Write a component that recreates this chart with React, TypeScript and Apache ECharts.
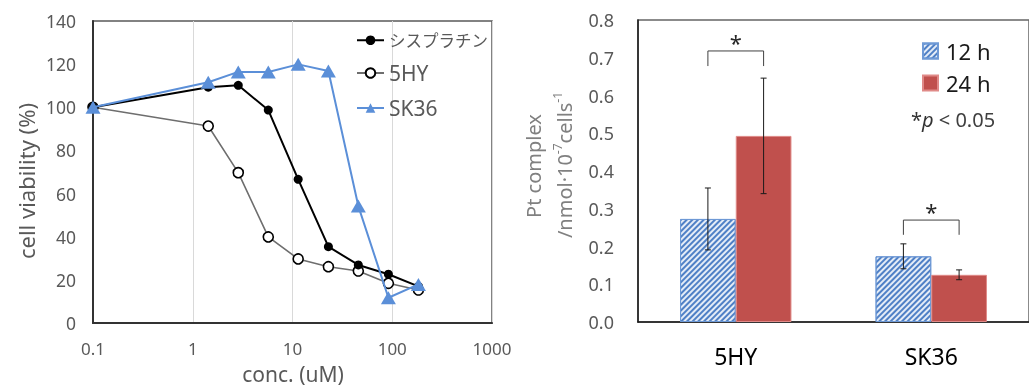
import React, { useEffect, useRef } from "react";
import * as echarts from "echarts";

// ---- Left chart data ----
const concs = [0.1, 1.43, 2.86, 5.72, 11.4, 22.9, 45.7, 91.5, 183];
const cisplatin = [100, 109.3, 110.2, 98.7, 66.6, 35.4, 26.9, 22.6, 17];
const hy5 = [100, 91.3, 69.7, 39.9, 29.7, 26.1, 24.1, 18.4, 15.3];
const sk36 = [100, 111.6, 116.4, 116.4, 119.9, 116.8, 54.2, 11.7, 17.9];
const lineNames = ["シスプラチン", "5HY", "SK36"];

// ---- Right chart data ----
const cellLines = ["5HY", "SK36"];
const mean12 = [0.273, 0.174];
const err12 = [0.082, 0.033];
const mean24 = [0.493, 0.125];
const err24 = [0.153, 0.013];
const sigTop = [0.718, 0.27];
const sigLeg = [0.678, 0.231];
const barNames = ["12 h", "24 h"];

const FONT = "'Noto Sans', 'Noto Sans CJK JP', sans-serif";
const JPFONT = "'Noto Sans CJK JP', sans-serif";
const BAR_FRAC = 0.285;

function pair(xs: number[], ys: number[]) {
  return xs.map((x, i) => [x, ys[i]]);
}

function errRender(sign: number) {
  return (params: any, api: any) => {
    const idx = api.value(0);
    const band = api.size([1, 0])[0];
    const off = ((band * BAR_FRAC) / 2) * sign;
    const lo = api.coord([idx, api.value(1)]);
    const hi = api.coord([idx, api.value(2)]);
    const x = lo[0] + off;
    const cap = 3;
    const st = { stroke: "#1a1a1a", lineWidth: 1 };
    return {
      type: "group",
      children: [
        { type: "line", shape: { x1: x, y1: lo[1], x2: x, y2: hi[1] }, style: st },
        { type: "line", shape: { x1: x - cap, y1: lo[1], x2: x + cap, y2: lo[1] }, style: st },
        { type: "line", shape: { x1: x - cap, y1: hi[1], x2: x + cap, y2: hi[1] }, style: st },
      ],
    };
  };
}

function bracketRender(params: any, api: any) {
  const idx = api.value(0);
  const band = api.size([1, 0])[0];
  const off = (band * BAR_FRAC) / 2;
  const top = api.coord([idx, api.value(1)]);
  const leg = api.coord([idx, api.value(2)]);
  const cx = top[0];
  return {
    type: "group",
    children: [
      {
        type: "polyline",
        shape: {
          points: [
            [cx - off, leg[1]],
            [cx - off, top[1]],
            [cx + off, top[1]],
            [cx + off, leg[1]],
          ],
        },
        style: { stroke: "#404040", lineWidth: 1, fill: "none" },
      },
      {
        type: "text",
        x: cx,
        y: top[1] - 9,
        style: {
          text: "*",
          fontSize: 22,
          fontFamily: FONT,
          fill: "#262626",
          textAlign: "center",
          textVerticalAlign: "middle",
        },
      },
    ],
  };
}

export default function App() {
  const ref = useRef<HTMLDivElement>(null);
  useEffect(() => {
    if (!ref.current) return;
    const chart = echarts.init(ref.current, undefined, { renderer: "svg" });
    const gray = "#595959";
    chart.setOption({
      animation: false,
      textStyle: { fontFamily: FONT },
      legend: [
        {
          data: lineNames,
          orient: "vertical",
          left: 356,
          top: 32,
          padding: 0,
          itemWidth: 27,
          itemHeight: 12,
          itemGap: 14,
          formatter: (name: string) =>
            name === lineNames[0] ? `{jp|${name}}` : `{en|${name}}`,
          textStyle: {
            color: gray,
            fontFamily: FONT,
            rich: {
              jp: { fontSize: 16.5, fontFamily: JPFONT, color: gray, lineHeight: 20 },
              en: { fontSize: 21, fontFamily: FONT, color: gray, lineHeight: 20 },
            },
          },
        },
        {
          data: barNames,
          orient: "vertical",
          left: 922,
          top: 40,
          padding: 0,
          itemWidth: 15,
          itemHeight: 15,
          itemGap: 10,
          icon: "rect",
          textStyle: {
            fontSize: 22,
            lineHeight: 22,
            color: "#1a1a1a",
            fontFamily: FONT,
            padding: [0, 0, 0, 3],
          },
        },
      ],
      grid: [
        {
          left: 93,
          top: 21,
          width: 399,
          height: 302,
          show: true,
          borderColor: "#595959",
          borderWidth: 1.5,
        },
        {
          left: 638,
          top: 20,
          right: -11,
          height: 302,
          show: true,
          borderColor: "#666",
          borderWidth: 1.5,
        },
      ],
      xAxis: [
        {
          type: "log",
          gridIndex: 0,
          min: 0.1,
          max: 1000,
          logBase: 10,
          axisLine: { lineStyle: { color: "#333", width: 2 } },
          axisTick: { show: false },
          splitLine: { show: true, lineStyle: { color: "#d9d9d9", width: 1 } },
          axisLabel: {
            fontSize: 17,
            color: gray,
            margin: 17,
            formatter: (v: number) => String(v),
          },
        },
        {
          type: "category",
          gridIndex: 1,
          data: cellLines,
          axisLine: { lineStyle: { color: "#1a1a1a", width: 1.5 } },
          axisTick: { show: false },
          axisLabel: { fontSize: 23, color: "#000", margin: 22 },
        },
      ],
      yAxis: [
        {
          type: "value",
          gridIndex: 0,
          min: 0,
          max: 140,
          interval: 20,
          axisLine: { show: true, lineStyle: { color: "#333", width: 2 } },
          axisTick: { show: false },
          splitLine: { show: false },
          axisLabel: { fontSize: 17.5, color: gray, margin: 17 },
        },
        {
          type: "value",
          gridIndex: 1,
          min: 0,
          max: 0.8,
          interval: 0.1,
          axisLine: { show: true, lineStyle: { color: "#1a1a1a", width: 1.5 } },
          axisTick: { show: false },
          splitLine: { show: false },
          axisLabel: {
            fontSize: 18,
            color: gray,
            margin: 24,
            formatter: (v: number) => v.toFixed(1),
          },
        },
      ],
      series: [
        {
          name: lineNames[0],
          type: "line",
          xAxisIndex: 0,
          yAxisIndex: 0,
          data: pair(concs, cisplatin),
          symbol: "circle",
          symbolSize: 9,
          lineStyle: { color: "#000", width: 2 },
          itemStyle: { color: "#000" },
          z: 3,
        },
        {
          name: lineNames[1],
          type: "line",
          xAxisIndex: 0,
          yAxisIndex: 0,
          data: pair(concs, hy5),
          symbol: "circle",
          symbolSize: 10,
          showAllSymbol: true,
          lineStyle: { color: "#6e6e6e", width: 1.6 },
          itemStyle: { color: "#fff", borderColor: "#000", borderWidth: 1.6 },
          z: 2,
        },
        {
          name: lineNames[2],
          type: "line",
          xAxisIndex: 0,
          yAxisIndex: 0,
          data: pair(concs, sk36),
          symbol: "triangle",
          symbolSize: [15, 13],
          lineStyle: { color: "#5b8fd8", width: 2 },
          itemStyle: { color: "#5b8fd8" },
          z: 4,
        },
        {
          name: barNames[0],
          type: "bar",
          xAxisIndex: 1,
          yAxisIndex: 1,
          data: mean12,
          barGap: "0%",
          barCategoryGap: "43%",
          itemStyle: {
            color: "#e4ecf7",
            borderColor: "#6f9ad6",
            borderWidth: 1,
            decal: {
              symbol: "rect",
              symbolSize: 1,
              color: "#4f80c6",
              dashArrayX: [1, 0],
              dashArrayY: [1.5, 1.5],
              rotation: -Math.PI / 4,
            },
          },
        },
        {
          name: barNames[1],
          type: "bar",
          xAxisIndex: 1,
          yAxisIndex: 1,
          data: mean24,
          barGap: "0%",
          barCategoryGap: "43%",
          itemStyle: { color: "#c0504d", borderColor: "#e08a88", borderWidth: 1 },
        },
        {
          type: "custom",
          xAxisIndex: 1,
          yAxisIndex: 1,
          renderItem: errRender(-1),
          data: mean12.map((m, i) => [i, m - err12[i], m + err12[i]]),
          z: 5,
          silent: true,
        },
        {
          type: "custom",
          xAxisIndex: 1,
          yAxisIndex: 1,
          renderItem: errRender(1),
          data: mean24.map((m, i) => [i, m - err24[i], m + err24[i]]),
          z: 5,
          silent: true,
        },
        {
          type: "custom",
          xAxisIndex: 1,
          yAxisIndex: 1,
          renderItem: bracketRender,
          data: sigTop.map((t, i) => [i, t, sigLeg[i]]),
          z: 5,
          silent: true,
        },
      ],
      graphic: [
        {
          type: "text",
          x: 293,
          y: 374,
          style: {
            text: "conc. (uM)",
            fontSize: 21,
            fontFamily: FONT,
            fill: gray,
            textAlign: "center",
            textVerticalAlign: "middle",
          },
        },
        {
          type: "text",
          x: 26,
          y: 181,
          rotation: Math.PI / 2,
          style: {
            text: "cell viability (%)",
            fontSize: 22,
            fontFamily: FONT,
            fill: gray,
            textAlign: "center",
            textVerticalAlign: "middle",
          },
        },
        {
          type: "text",
          x: 533,
          y: 166,
          rotation: Math.PI / 2,
          style: {
            text: "Pt complex",
            fontSize: 20,
            fontFamily: FONT,
            fill: "#808080",
            textAlign: "center",
            textVerticalAlign: "middle",
          },
        },
        {
          type: "text",
          x: 563,
          y: 165,
          rotation: Math.PI / 2,
          style: {
            text: "{m|/nmol·10}{s|-7}{m|cells}{s|-1}",
            textAlign: "center",
            textVerticalAlign: "middle",
            rich: {
              m: { fontSize: 20, fontFamily: FONT, fill: "#808080", lineHeight: 23, verticalAlign: "bottom" },
              s: { fontSize: 12, fontFamily: FONT, fill: "#808080", lineHeight: 23, verticalAlign: "top" },
            },
          },
        },
        {
          type: "text",
          x: 911,
          y: 119,
          style: {
            text: "{a|*}{p|p}{b| < 0.05}",
            textVerticalAlign: "middle",
            rich: {
              a: { fontSize: 20, fontFamily: FONT, fill: "#333" },
              p: { fontSize: 20, fontFamily: FONT, fontStyle: "italic", fill: "#333" },
              b: { fontSize: 20, fontFamily: FONT, fill: "#404040" },
            },
          },
        },
      ],
    });
    return () => chart.dispose();
  }, []);
  return (
    <div
      ref={ref}
      style={{ position: "fixed", left: 0, top: 0, width: 1029, height: 390 }}
    />
  );
}
